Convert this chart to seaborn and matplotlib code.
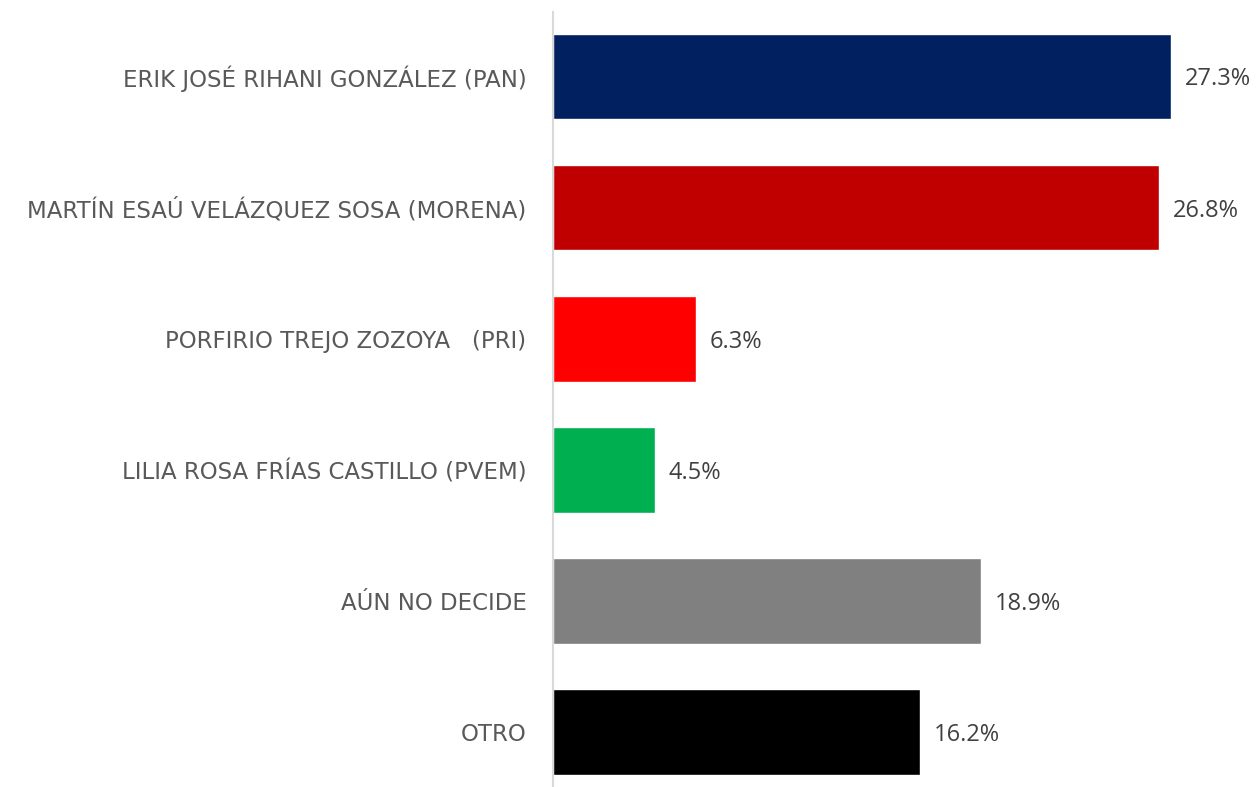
import matplotlib
matplotlib.use("Agg")
import matplotlib.pyplot as plt
import seaborn as sns
import pandas as pd

categories = [
    "ERIK JOSÉ RIHANI GONZÁLEZ (PAN)",
    "MARTÍN ESAÚ VELÁZQUEZ SOSA (MORENA)",
    "PORFIRIO TREJO ZOZOYA   (PRI)",
    "LILIA ROSA FRÍAS CASTILLO (PVEM)",
    "AÚN NO DECIDE",
    "OTRO",
]
values = [27.3, 26.8, 6.3, 4.5, 18.9, 16.2]
colors = ["#002060", "#C00000", "#FF0000", "#00B050", "#808080", "#000000"]

df = pd.DataFrame({"cat": categories, "val": values})

sns.set_theme(style="white")
plt.rcParams["font.family"] = ["Open Sans", "DejaVu Sans"]

fig = plt.figure(figsize=(12.58, 7.87), dpi=100)
ax = fig.add_axes([553 / 1258, -9 / 787, 705 / 1258, 784 / 787])

sns.barplot(data=df, y="cat", x="val", hue="cat", palette=dict(zip(categories, colors)),
            orient="h", width=0.655, legend=False, ax=ax, saturation=1)

for c in ax.containers:
    texts = ax.bar_label(c, labels=[f"{v:.1f}%" for v in c.datavalues], padding=10,
                         fontsize=17, color="#404040")
    for t in texts:
        t.set_va("center_baseline")

ax.set_xlim(0, 705 / 22.63)
ax.set_ylim(5.49, -0.492)
ax.set_xlabel("")
ax.set_ylabel("")
ax.set_xticks([])
ax.tick_params(axis="y", length=0, pad=19, labelsize=16.5, labelcolor="#595959")
for lab in ax.get_yticklabels():
    lab.set_fontfamily(["DejaVu Sans"])
for s in ["top", "right", "bottom"]:
    ax.spines[s].set_visible(False)
ax.spines["left"].set_color("#d9d9d9")
ax.spines["left"].set_linewidth(1.5)

fig.savefig("out.png", dpi=100)
